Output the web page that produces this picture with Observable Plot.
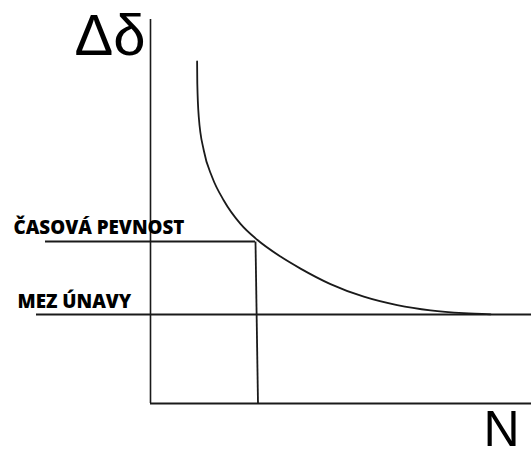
<!DOCTYPE html>
<html>
<head>
<meta charset="utf-8">
<script src="https://cdn.jsdelivr.net/npm/d3@7"></script>
<script src="https://cdn.jsdelivr.net/npm/@observablehq/plot@0.6"></script>
<style>
  html, body { margin: 0; padding: 0; background: #fff; }
  #chart svg { display: block; }
</style>
</head>
<body>
<div id="chart"></div>
<script>
// Wöhler (fatigue) curve – schematic values in chart units
const curveN      = [46.6, 46.8, 48.3, 53.3, 61.7, 73.3, 90, 106.7, 130, 150, 180, 213.3, 246.7, 280, 313.3, 340];
const curveStress = [342, 320, 286.3, 253, 226.3, 203, 179.6, 163.7, 146.9, 134.9, 119.4, 106.8, 98.4, 93.1, 90.3, 89.2];

const casovaPevnost = 162;     // stress level of time strength
const casovaN = [105, 107.5];  // N at which time strength ends (top, bottom)
const mezUnavy = 89;           // fatigue limit

const axisX = [0, 381];
const axisY = [0, 384];

const labelTexts = ["ČASOVÁ PEVNOST", "MEZ ÚNAVY"];
const labelN = [-137, -133];
const labelS = [170, 96];

const yLabel = "Δδ";
const xLabel = "N";

const curve = curveN.map((n, i) => ({n, s: curveStress[i]}));
const labels = labelTexts.map((t, i) => ({t, n: labelN[i], s: labelS[i]}));

const ink = "#1a1a1a";

const chart = Plot.plot({
  width: 531,
  height: 450,
  margin: 0,
  x: {domain: [-150, 381], axis: null},
  y: {domain: [-47, 403], axis: null},
  marks: [
    // axes
    Plot.ruleX([0], {y1: axisY[0], y2: axisY[1], stroke: ink, strokeWidth: 1.6}),
    Plot.ruleY([0], {x1: axisX[0], x2: axisX[1], stroke: ink, strokeWidth: 1.8}),
    // časová pevnost
    Plot.ruleY([casovaPevnost], {x1: -105, x2: casovaN[0], stroke: ink, strokeWidth: 1.8}),
    Plot.link([0], {x1: casovaN[0], y1: casovaPevnost, x2: casovaN[1], y2: 0, stroke: ink, strokeWidth: 1.8}),
    // mez únavy
    Plot.ruleY([mezUnavy], {x1: -114, x2: 381, stroke: ink, strokeWidth: 1.8}),
    // curve
    Plot.line(curve, {x: "n", y: "s", curve: "monotone-x", stroke: ink, strokeWidth: 1.8}),
    // labels
    Plot.text(labels, {x: "n", y: "s", text: "t", textAnchor: "start", lineAnchor: "bottom",
      fontFamily: "Open Sans", fontWeight: 800, fontSize: 18.8, fill: "#000"}),
    Plot.text([yLabel], {x: -76, y: 349, textAnchor: "start", lineAnchor: "bottom",
      fontFamily: "Liberation Sans", fontSize: 58, fill: "#000"}),
    Plot.text([xLabel], {x: 333, y: -42, textAnchor: "start", lineAnchor: "bottom",
      fontFamily: "Liberation Sans", fontSize: 50, fill: "#000"})
  ]
});

document.getElementById("chart").appendChild(chart);
</script>
</body>
</html>
